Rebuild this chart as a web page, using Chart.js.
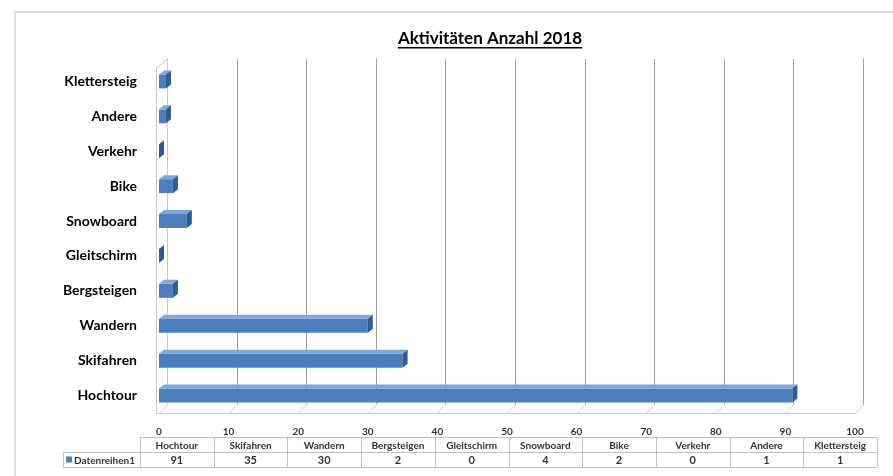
<!DOCTYPE html>
<html>
<head>
<meta charset="utf-8">
<script src="https://cdn.jsdelivr.net/npm/chart.js@4/dist/chart.umd.min.js"></script>
<style>
html, body { margin: 0; padding: 0; background: #fff; }
#wrap { width: 893px; height: 476px; }
</style>
</head>
<body>
<div id="wrap"><canvas id="chart" width="893" height="476"></canvas></div>
<script>
// data
var categories = ["Hochtour", "Skifahren", "Wandern", "Bergsteigen", "Gleitschirm",
                  "Snowboard", "Bike", "Verkehr", "Andere", "Klettersteig"];
var values = [91, 35, 30, 2, 0, 4, 2, 0, 1, 1];
var seriesName = "Datenreihen1";
var chartTitle = "Aktivitäten Anzahl 2018";
var xMin = 0, xMax = 100, xStep = 10;

var FONT = "Lato, 'Open Sans', sans-serif";
var DX = 8, DY = 9;       // depth of the back wall
var BX = 5, BY = 4;       // depth of a bar

// page frame + back wall, floor and grid
var wallPlugin = {
    id: "wall",
    beforeDraw: function (chart) {
        var ctx = chart.ctx;
        ctx.save();
        ctx.fillStyle = "#fff";
        ctx.fillRect(0, 0, chart.width, chart.height);
        ctx.strokeStyle = "#dcdcdc";
        ctx.lineWidth = 2;
        ctx.strokeRect(15, 12, chart.width + 20, chart.height + 20);
        ctx.restore();
    },
    beforeDatasetsDraw: function (chart) {
        var ctx = chart.ctx, a = chart.chartArea, x = chart.scales.x;
        var top = a.top - 5;
        ctx.save();
        ctx.lineWidth = 1;

        // side wall on the left
        ctx.strokeStyle = "#c8c8c8";
        ctx.beginPath();
        ctx.moveTo(a.left - 2.5, a.bottom + 0.5);
        ctx.lineTo(a.left - 2.5, top + DY);
        ctx.lineTo(a.left - 2.5 + DX + 3, top);
        ctx.lineTo(a.left - 2.5 + DX + 3, a.bottom - DY + 0.5);
        ctx.stroke();

        // floor front edge
        ctx.beginPath();
        ctx.moveTo(a.left - 2.5, a.bottom + 0.5);
        ctx.lineTo(a.right + 0.5, a.bottom + 0.5);
        ctx.stroke();

        for (var v = xMin; v <= xMax; v += xStep) {
            var px = Math.round(x.getPixelForValue(v)) + 0.5;
            // diagonal floor marks
            ctx.strokeStyle = "#c8c8c8";
            ctx.beginPath();
            ctx.moveTo(px, a.bottom + 0.5);
            ctx.lineTo(px + DX, a.bottom - DY + 0.5);
            ctx.stroke();
            // back wall grid
            if (v > xMin) {
                ctx.strokeStyle = "#a0a0a0";
                ctx.beginPath();
                ctx.moveTo(px + DX, a.bottom - DY + 0.5);
                ctx.lineTo(px + DX, top);
                ctx.stroke();
            }
        }
        ctx.restore();
    },
    afterDatasetsDraw: function (chart) {
        var ctx = chart.ctx;
        var meta = chart.getDatasetMeta(0);
        ctx.save();
        meta.data.forEach(function (bar) {
            var p = bar.getProps(["x", "y", "base", "height"], true);
            var t = p.y - p.height / 2, b = p.y + p.height / 2;
            var x0 = p.base, x1 = p.x;
            // top face
            ctx.fillStyle = "#7fa7d9";
            ctx.beginPath();
            ctx.moveTo(x0, t);
            ctx.lineTo(x1, t);
            ctx.lineTo(x1 + BX, t - BY);
            ctx.lineTo(x0 + BX, t - BY);
            ctx.closePath();
            ctx.fill();
            // side face
            ctx.fillStyle = "#2d5b94";
            ctx.beginPath();
            ctx.moveTo(x1, t);
            ctx.lineTo(x1 + BX, t - BY);
            ctx.lineTo(x1 + BX, b - BY);
            ctx.lineTo(x1, b);
            ctx.closePath();
            ctx.fill();
        });
        ctx.restore();
    }
};

// title and data table
var textPlugin = {
    id: "texts",
    afterDraw: function (chart) {
        var ctx = chart.ctx, a = chart.chartArea;
        ctx.save();

        // title, underlined
        ctx.font = "bold 17px " + FONT;
        ctx.fillStyle = "#000";
        ctx.textAlign = "center";
        ctx.textBaseline = "alphabetic";
        var tx = 490, ty = 44;
        ctx.fillText(chartTitle, tx, ty);
        var w = ctx.measureText(chartTitle).width;
        ctx.fillRect(tx - w / 2, ty + 3, w, 1.5);

        // data table
        var left = a.left - 19, right = a.right + 22;
        var r0 = 437, r1 = 452, r2 = 467;
        var cw = (right - left) / categories.length;
        var legLeft = 63;
        ctx.strokeStyle = "#bfbfbf";
        ctx.lineWidth = 1;
        ctx.beginPath();
        ctx.moveTo(left, r0 + 0.5); ctx.lineTo(right, r0 + 0.5);
        ctx.moveTo(legLeft, r1 + 0.5); ctx.lineTo(right, r1 + 0.5);
        ctx.moveTo(legLeft, r2 + 0.5); ctx.lineTo(right, r2 + 0.5);
        ctx.moveTo(legLeft + 0.5, r1); ctx.lineTo(legLeft + 0.5, r2);
        for (var i = 0; i <= categories.length; i++) {
            var cx = Math.round(left + i * cw) + 0.5;
            ctx.moveTo(cx, r0); ctx.lineTo(cx, r2);
        }
        ctx.stroke();

        ctx.fillStyle = "#333";
        ctx.textBaseline = "middle";
        ctx.textAlign = "center";
        categories.forEach(function (c, i) {
            var cx = left + (i + 0.5) * cw;
            ctx.font = "bold 10px " + FONT;
            ctx.fillText(c, cx, (r0 + r1) / 2 + 1);
            ctx.font = "bold 11px " + FONT;
            ctx.fillText(String(values[i]), cx, (r1 + r2) / 2 + 1);
        });

        // legend key
        ctx.fillStyle = "#4a7ebf";
        ctx.fillRect(legLeft + 3, (r1 + r2) / 2 - 3, 6, 6);
        ctx.fillStyle = "#333";
        ctx.textAlign = "left";
        ctx.font = "bold 10px " + FONT;
        ctx.fillText(seriesName, legLeft + 11, (r1 + r2) / 2 + 1);

        ctx.restore();
    }
};

new Chart(document.getElementById("chart"), {
    type: "bar",
    data: {
        labels: categories,
        datasets: [{
            label: seriesName,
            data: values,
            backgroundColor: "#4a7ebf",
            borderWidth: 0,
            categoryPercentage: 1,
            barPercentage: 0.4
        }]
    },
    options: {
        indexAxis: "y",
        responsive: false,
        animation: false,
        devicePixelRatio: 1,
        layout: { padding: { left: 0, right: 38, top: 64, bottom: 33 } },
        plugins: {
            legend: { display: false },
            title: { display: false },
            tooltip: { enabled: false }
        },
        scales: {
            x: {
                min: xMin,
                max: xMax,
                grid: { display: false },
                border: { display: false },
                ticks: {
                    stepSize: xStep,
                    padding: 5,
                    color: "#333",
                    font: { family: FONT, size: 10, weight: "bold" }
                },
                afterFit: function (s) { s.height = 30; }
            },
            y: {
                reverse: true,
                grid: { display: false },
                border: { display: false },
                ticks: {
                    padding: 14,
                    color: "#000",
                    font: { family: FONT, size: 14, weight: "bold" }
                },
                afterFit: function (s) { s.width = 159; }
            }
        }
    },
    plugins: [wallPlugin, textPlugin]
});
</script>
</body>
</html>
